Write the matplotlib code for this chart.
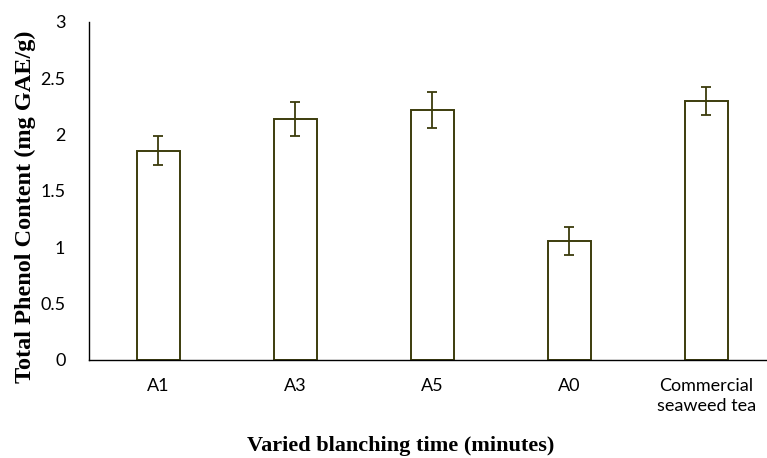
import matplotlib
matplotlib.use("Agg")
import matplotlib.pyplot as plt

# data
categories = ["A1", "A3", "A5", "A0", "Commercial\nseaweed tea"]
phenol = [1.855, 2.14, 2.22, 1.055, 2.295]
phenol_err = [0.13, 0.15, 0.16, 0.125, 0.125]

edge = "#3c3c0c"

fig = plt.figure(figsize=(7.67, 4.58), dpi=100)
ax = fig.add_axes([89 / 767, 98 / 458, 686 / 767, 338.3 / 458])

x = range(len(categories))
ax.bar(x, phenol, width=0.313, color="white", edgecolor=edge, linewidth=1.4,
       yerr=phenol_err, ecolor=edge,
       error_kw=dict(capsize=3.6, elinewidth=1.3, capthick=1.3))

ax.set_xlim(-0.505, 4.5)
ax.set_ylim(0, 3)
ax.set_yticks([0, 0.5, 1, 1.5, 2, 2.5, 3])
ax.set_yticklabels(["0", "0.5", "1", "1.5", "2", "2.5", "3"])
ax.set_xticks(list(x))
ax.set_xticklabels(categories, linespacing=1.3)

for lbl in ax.get_xticklabels() + ax.get_yticklabels():
    lbl.set_fontfamily("Lato")
    lbl.set_fontsize(13)
ax.tick_params(axis="x", length=0, pad=13)
ax.tick_params(axis="y", length=0, pad=17)

for side in ["top", "right"]:
    ax.spines[side].set_visible(False)
for side in ["left", "bottom"]:
    ax.spines[side].set_color("black")
    ax.spines[side].set_linewidth(1.0)

fig.text(25 / 767, 1 - 207 / 458, "Total Phenol Content (mg GAE/g)",
         rotation=90, ha="center", va="center",
         fontfamily="Liberation Serif", fontweight="bold", fontsize=17.5)
fig.text(401 / 767, 1 - 446 / 458, "Varied blanching time (minutes)",
         ha="center", va="center",
         fontfamily="Liberation Serif", fontweight="bold", fontsize=16)

fig.savefig("out.png", dpi=100)
